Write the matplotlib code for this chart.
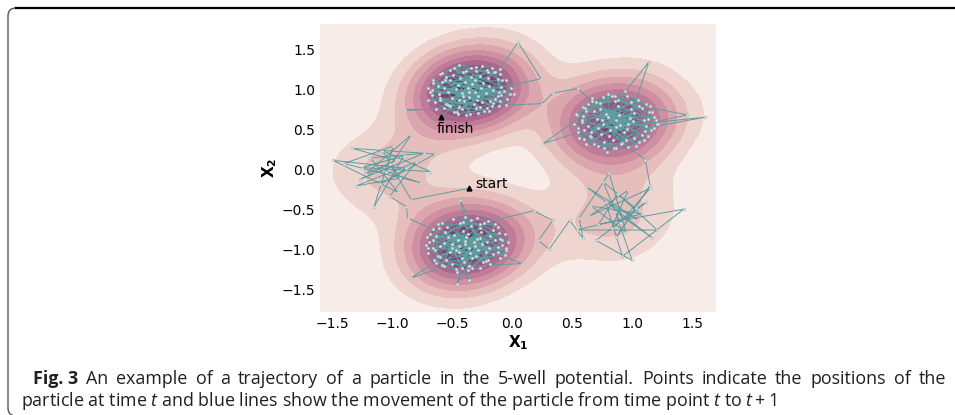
import matplotlib
matplotlib.use("Agg")
import matplotlib.pyplot as plt
import numpy as np
import seaborn as sns
from matplotlib.patches import FancyBboxPatch
from matplotlib.lines import Line2D
from matplotlib.transforms import IdentityTransform

# trajectory of the particle (x1, x2), in time order
start = [(-0.36, -0.23)]
left_well = [
    (-0.84, -0.37), (-1.02, 0.08), (-1.27, -0.12), (-0.73, 0.21), (-1.18, 0.15),
    (-0.95, -0.28), (-1.49, 0.12), (-0.88, 0.02), (-1.10, -0.18), (-0.64, 0.20),
    (-1.33, 0.27), (-0.97, 0.12), (-1.22, -0.05), (-0.84, 0.44), (-1.05, -0.02),
    (-0.76, -0.16), (-1.40, 0.08), (-0.99, 0.30), (-1.15, -0.46), (-0.90, 0.18),
    (-1.25, 0.03), (-0.68, -0.02), (-1.08, 0.24), (-0.93, -0.10), (-1.30, -0.20),
    (-0.80, 0.10), (-1.02, -0.33), (-0.88, -0.46),
]
bottom_left_well = [
    (-0.87, -0.60), (-0.45, -0.88), (-0.22, -1.02), (-0.56, -0.78), (-0.31, -0.95),
    (-0.62, -1.08), (-0.18, -0.82), (-0.40, -1.15), (-0.50, -0.93), (-0.27, -0.72),
    (-0.03, -0.90), (-0.06, -0.80), (-0.12, -0.71), (-0.20, -0.64), (-0.29, -0.60),
    (-0.66, -0.88), (-0.35, -1.04), (-0.12, -0.96), (-0.43, -0.66), (-0.58, -1.19),
    (-0.39, -0.59), (-0.49, -0.61), (-0.58, -0.66), (-0.66, -0.74), (-0.71, -0.84),
    (-0.29, -0.86), (-0.47, -1.00), (-0.20, -1.12), (-0.43, -0.38), (-0.37, -0.80),
    (-0.72, -0.94), (-0.70, -1.04), (-0.65, -1.13), (-0.57, -1.20), (-0.47, -1.24),
    (-0.70, -0.97), (-0.25, -0.93), (-0.53, -0.84), (-0.33, -1.22), (-0.08, -0.88),
    (-0.37, -1.25), (-0.27, -1.23), (-0.18, -1.18), (-0.10, -1.10), (-0.05, -1.00),
    (-0.44, -0.95), (-0.61, -0.72), (-0.30, -1.07), (-0.84, -1.35), (-0.39, -0.89),
    (-0.10, -0.86), (-0.16, -0.75), (-0.27, -0.68), (-0.41, -0.65), (-0.54, -0.71),
    (-0.16, -1.05), (-0.52, -1.03), (-0.26, -0.78), (-0.46, -1.28), (-0.36, -0.98),
    (-0.63, -0.82), (-0.66, -0.97), (-0.60, -1.09), (-0.50, -1.17), (-0.36, -1.20),
    (0.08, -1.17), (-0.48, -0.81), (-0.21, -0.90), (-0.64, -1.00), (-0.34, -0.70),
    (-0.22, -1.14), (-0.12, -1.03), (-0.08, -0.94), (-0.34, -0.62), (-0.69, -0.90),
    (-0.42, -1.10), (-0.11, -0.79), (-0.57, -0.91), (-0.28, -1.00), (-0.46, -1.42),
    (-0.42, -1.23), (-0.14, -0.68), (-0.62, -0.68), (-0.63, -1.16), (-0.06, -1.06),
    (-0.38, -0.84), (-0.19, -0.97), (-0.55, -1.12), (-0.32, -0.90), (-0.68, -0.80),
    (-0.24, -1.15), (-0.41, -0.76), (-0.36, -1.38), (-0.50, -0.97), (-0.14, -0.88),
    (-0.33, -1.10), (-0.60, -0.95), (-0.27, -0.85), (-0.44, -1.03), (-0.05, -0.98),
    (-0.39, -0.93), (-0.23, -0.66), (0.18, -0.51),
]
bridge = [(0.34, -0.63), (0.22, -0.88), (0.31, -0.99), (0.48, -0.63), (0.59, -0.85), (0.56, -0.60)]
bottom_right_well = [
    (0.81, -0.04), (0.95, -0.78), (0.66, -0.45), (1.08, -0.55), (0.54, -0.75),
    (1.21, -0.75), (0.88, -0.30), (0.72, -0.68), (1.43, -0.49), (0.92, -1.08),
    (0.78, -0.40), (1.05, -0.62), (0.62, -0.21), (1.17, -0.85), (0.86, -0.52),
    (1.00, -1.13), (0.70, -0.88), (1.12, -0.40), (0.83, -0.72), (0.97, -0.25),
    (0.64, -0.58), (1.15, -0.23), (0.90, -0.66), (0.76, -0.15), (1.03, -0.48),
    (0.87, -0.84), (1.15, -0.19), (1.11, 0.13),
]
right_well = [
    (0.92, 0.34), (0.75, 0.62), (1.02, 0.71), (0.66, 0.48), (0.88, 0.80),
    (1.20, 0.62), (1.17, 0.72), (1.12, 0.82), (1.05, 0.88), (0.96, 0.92),
    (1.12, 0.55), (0.59, 0.67), (0.81, 0.42), (0.97, 0.58), (0.70, 0.85),
    (0.86, 0.93), (0.76, 0.91), (0.67, 0.86), (0.59, 0.79), (0.54, 0.69),
    (1.18, 0.66), (0.85, 0.28), (0.63, 0.55), (1.05, 0.88), (0.78, 0.70),
    (0.52, 0.58), (0.55, 0.48), (0.60, 0.39), (0.68, 0.32), (0.77, 0.28),
    (0.93, 0.47), (1.61, 0.66), (0.72, 0.52), (0.99, 0.76), (0.56, 0.40),
    (0.87, 0.27), (0.97, 0.29), (1.06, 0.35), (1.13, 0.43), (1.18, 0.52),
    (0.87, 0.63), (1.08, 0.44), (0.68, 0.74), (0.83, 0.92), (1.14, 0.72),
    (1.13, 0.64), (1.08, 0.77), (0.99, 0.85), (0.88, 0.87), (0.73, 0.84),
    (0.26, 0.33), (0.76, 0.57), (0.95, 0.38), (0.61, 0.78), (1.01, 0.61),
    (0.62, 0.74), (0.58, 0.62), (0.60, 0.50), (0.66, 0.41), (0.77, 0.35),
    (0.79, 0.22), (1.22, 0.58), (0.89, 0.69), (0.65, 0.43), (1.14, 1.35),
    (0.91, 0.33), (1.02, 0.40), (1.11, 0.49), (1.15, 0.80), (0.80, 0.95),
    (0.82, 0.50), (1.06, 0.80), (0.71, 0.64), (0.96, 0.51), (0.58, 0.60),
    (0.55, 0.53), (0.72, 0.30), (1.10, 0.38), (1.21, 0.57), (0.63, 0.82),
    (0.86, 0.86), (1.46, 0.69), (0.74, 0.45), (1.10, 0.62), (0.90, 0.56),
    (0.67, 0.90), (1.03, 0.30), (0.80, 0.66), (0.53, 0.70), (0.94, 0.99),
    (0.84, 0.37), (1.16, 0.50), (0.73, 0.76), (0.98, 0.65), (0.62, 0.32),
    (0.87, 0.54), (0.55, 1.02), (0.34, 0.96),
]
top_left_well = [
    (0.25, 0.83), (-0.05, 0.81), (-0.31, 0.97), (-0.52, 1.12), (-0.18, 0.86),
    (-0.01, 1.02), (-0.05, 1.12), (-0.10, 1.20), (-0.17, 1.27), (-0.25, 1.30),
    (-0.44, 0.79), (-0.27, 1.18), (-0.61, 0.95), (-0.09, 1.04), (-0.38, 1.24),
    (-0.34, 1.28), (-0.44, 1.31), (-0.52, 1.25), (-0.60, 1.20), (-0.66, 1.12),
    (-0.23, 0.74), (-0.55, 0.83), (-0.33, 1.07), (-0.12, 0.92), (-0.47, 1.01),
    (-0.70, 1.03), (-0.67, 0.94), (-0.64, 0.85), (-0.57, 0.77), (-0.48, 0.72),
    (-0.29, 0.88), (-0.66, 1.09), (-0.20, 1.15), (-0.10, 1.26), (0.05, 1.60),
    (0.24, 1.14), (-0.41, 0.93), (-0.35, 0.70), (-0.58, 1.21), (-0.26, 1.02),
    (-0.38, 0.69), (-0.28, 0.71), (-0.19, 0.74), (-0.11, 0.80), (-0.04, 0.89),
    (-0.43, 1.15), (-0.15, 1.22), (-0.50, 0.90), (-0.32, 0.82), (-0.70, 0.87),
    (-0.07, 0.99), (-0.12, 1.14), (-0.20, 1.22), (-0.30, 1.24), (-0.41, 1.22),
    (-0.22, 0.96), (-0.39, 1.10), (-0.08, 1.12), (-0.46, 0.73), (-0.30, 1.29),
    (-0.55, 1.16), (-0.62, 1.05), (-0.60, 0.90), (-0.53, 0.81), (-0.42, 0.76),
    (-0.57, 1.03), (-0.17, 0.80), (-0.36, 0.98), (-0.63, 0.76), (-0.89, 0.75),
    (-0.30, 0.77), (-0.16, 0.84), (-0.09, 0.94), (-0.14, 1.23), (-0.48, 1.28),
    (-0.24, 1.09), (-0.49, 1.19), (-0.11, 0.98), (-0.40, 0.86), (-0.28, 0.93),
    (-0.68, 0.98), (-0.45, 0.70), (-0.21, 0.77), (-0.02, 0.95), (-0.58, 1.10),
    (0.02, 0.95), (-0.53, 0.97), (-0.34, 1.16), (-0.19, 1.05), (-0.45, 1.06),
    (-0.27, 0.79), (-0.60, 0.88), (-0.14, 0.89), (-0.37, 1.03), (-0.52, 0.80),
    (-0.21, 1.25), (-0.42, 0.96), (-0.31, 1.13), (-0.67, 1.00), (-0.10, 0.86),
    (-0.48, 1.27), (-0.25, 0.85), (-0.36, 0.91), (-0.56, 1.13), (-0.16, 1.00),
    (-0.44, 0.88), (-0.59, 0.66),
]

traj = np.array(start + left_well + bottom_left_well + bridge
                + bottom_right_well + right_well + top_left_well)
xs, ys = traj[:, 0], traj[:, 1]

caption_label = "Fig. 3"
caption_line1 = "An example of a trajectory of a particle in the 5-well potential. Points indicate the positions of the"
caption_line2 = r"particle at time $t$ and blue lines show the movement of the particle from time point $t$ to $t+1$"

cap_font = "Open Sans"
plt.rcParams["mathtext.fontset"] = "custom"
plt.rcParams["mathtext.rm"] = cap_font
plt.rcParams["mathtext.it"] = cap_font + ":italic"
plt.rcParams["mathtext.bf"] = cap_font + ":bold"

# gaussian kde of the trajectory (scott's rule)
xlim, ylim = (-1.6, 1.7), (-1.775, 1.825)
gx, gy = np.meshgrid(np.linspace(*xlim, 260), np.linspace(*ylim, 260))
n = len(traj)
inv = np.linalg.inv(np.cov(traj.T) * n ** (-2 / 6))
dens = np.zeros_like(gx)
for px, py in traj:
    dx, dy = gx - px, gy - py
    dens += np.exp(-0.5 * (inv[0, 0] * dx * dx + 2 * inv[0, 1] * dx * dy + inv[1, 1] * dy * dy))

cmap = sns.cubehelix_palette(light=0.97, dark=0.25, as_cmap=True)

fig = plt.figure(figsize=(9.55, 4.15), dpi=100)
ax = fig.add_axes([0.3351, 0.2482, 0.4147, 0.6940])
ax.set_facecolor(cmap(0.0))
ax.contourf(gx, gy, dens, levels=np.linspace(0, dens.max(), 11), cmap=cmap, zorder=1)
ax.plot(xs, ys, color="#5f9ea0", lw=0.7, zorder=2)
ax.plot(xs, ys, "o", ms=2.0, mfc="#e3e8ea", mec="#a3aeb3", mew=0.35, zorder=3)

# start / finish markers
ax.plot(xs[0], ys[0], "^", color="black", ms=3.5, zorder=4)
ax.plot(xs[-1], ys[-1], "^", color="black", ms=3.5, zorder=4)
ax.text(xs[0] + 0.055, ys[0], "start", fontsize=10, va="baseline", zorder=5)
ax.text(xs[-1] - 0.04, ys[-1] - 0.2, "finish", fontsize=10, va="baseline", zorder=5)

ax.set_xlim(*xlim)
ax.set_ylim(*ylim)
ax.set_xticks([-1.5, -1.0, -0.5, 0.0, 0.5, 1.0, 1.5])
ax.set_yticks([-1.5, -1.0, -0.5, 0.0, 0.5, 1.0, 1.5])
ax.tick_params(length=0, labelsize=10)
for s in ax.spines.values():
    s.set_visible(False)
ax.set_xlabel(r"$\mathbf{X_1}$", fontsize=11, math_fontfamily="dejavusans", labelpad=2)
ax.set_ylabel(r"$\mathbf{X_2}$", fontsize=11, math_fontfamily="dejavusans", labelpad=2)

# frame of the figure box
fig.add_artist(FancyBboxPatch((8, -1), 1000, 408, boxstyle="round,pad=0,rounding_size=8",
                              transform=IdentityTransform(), fill=False, ec="#555555", lw=1.0))
fig.add_artist(Line2D([16, 960], [407, 407], transform=IdentityTransform(), color="black", lw=1.6))

# caption: first line justified between x=33 and x=946 px, last line ragged
cap_kw = dict(fontsize=12.9, family=cap_font, color="#231f20", va="baseline", transform=IdentityTransform())
words = [(caption_label, "bold")] + [(w, "normal") for w in caption_line1.split()]
texts = [fig.text(0, 415 - 384, w, fontweight=fw, **cap_kw) for w, fw in words]
renderer = fig.canvas.get_renderer()
widths = [t.get_window_extent(renderer).width for t in texts]
gap = (946 - 33 - sum(widths)) / (len(texts) - 1)
x = 33
for t, w in zip(texts, widths):
    t.set_x(x)
    x += w + gap
fig.text(21, 415 - 406, caption_line2, **cap_kw)

fig.savefig("out.png", dpi=100)
